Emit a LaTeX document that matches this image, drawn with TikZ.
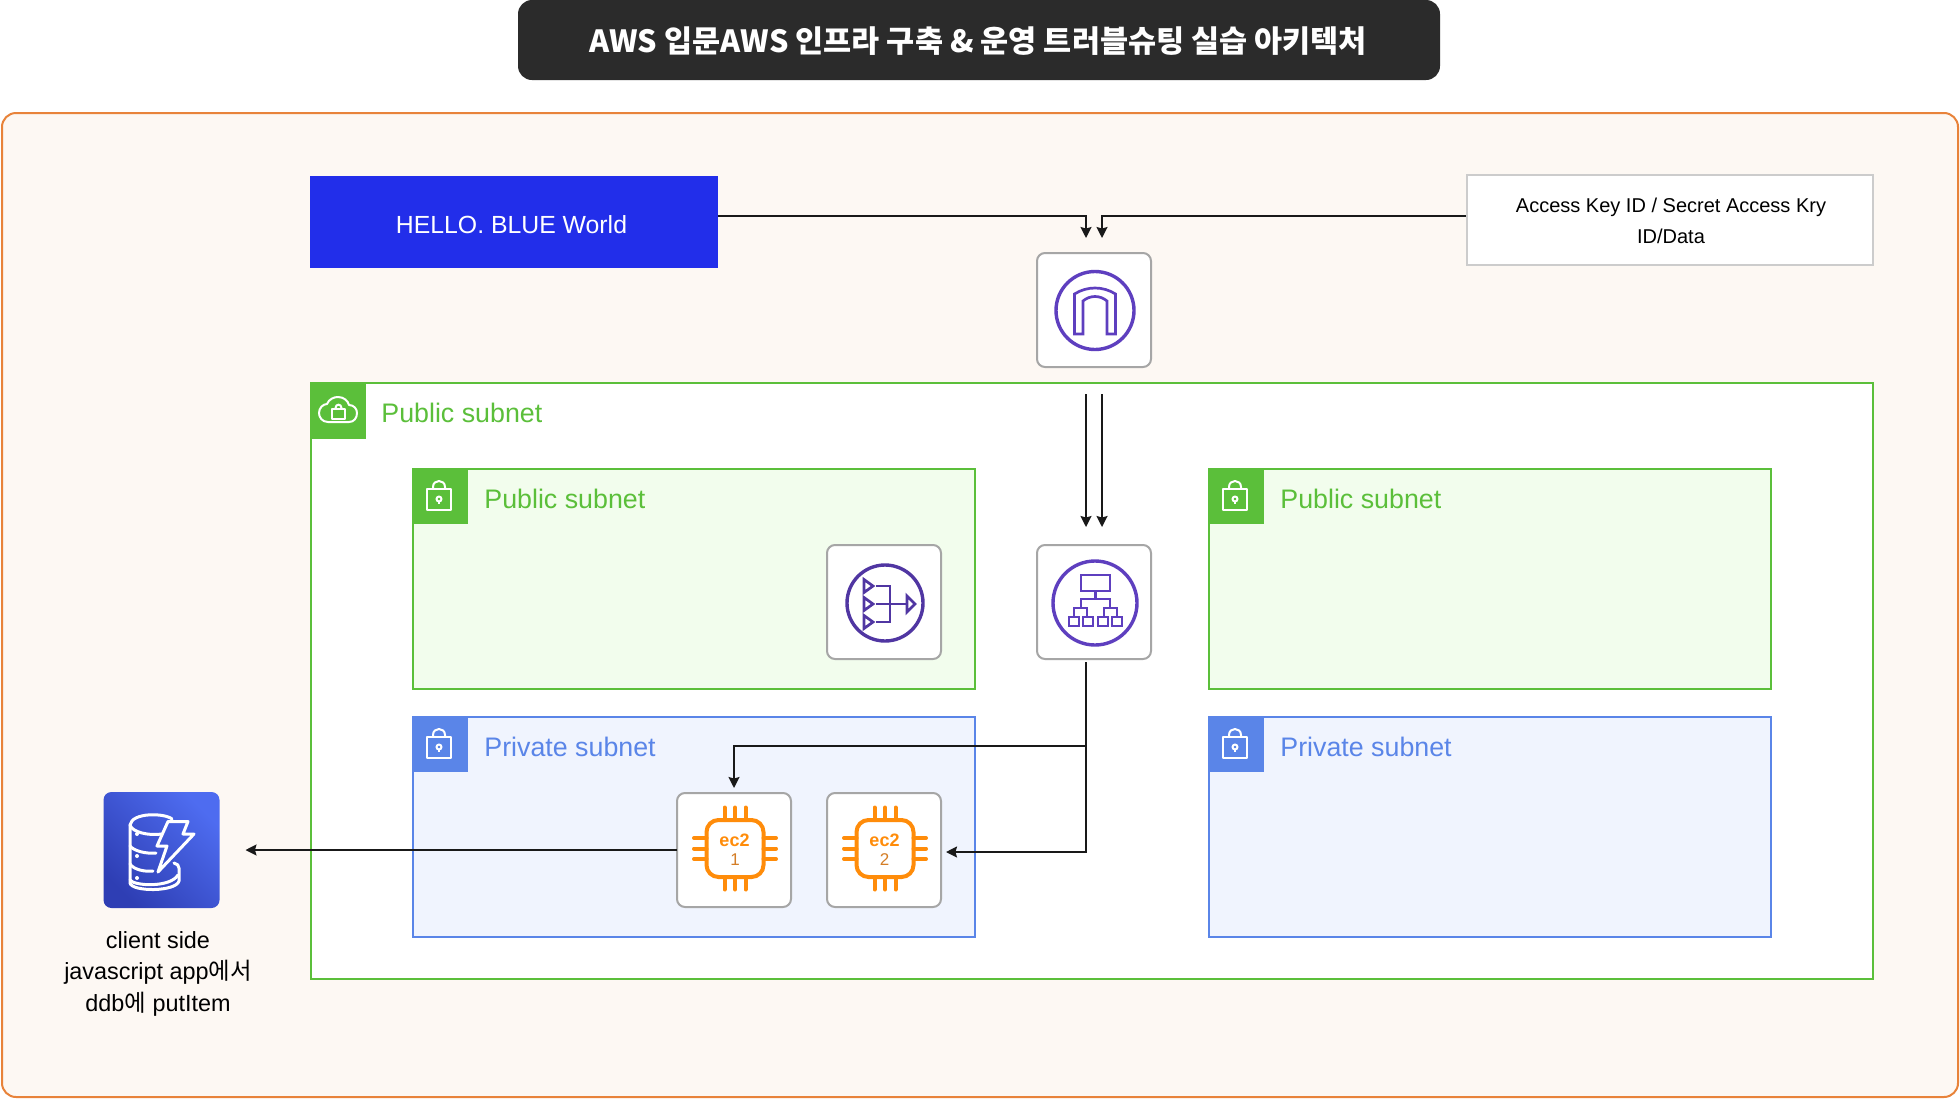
\documentclass[tikz,border=0pt]{standalone}
\usepackage{fontspec}
\setmainfont{Liberation Sans}
\newfontfamily\kr{Noto Sans CJK KR}
\usetikzlibrary{arrows.meta,calc}
\definecolor{gr}{HTML}{5BBF3A}
\definecolor{bl}{HTML}{5A85E8}
\definecolor{pu}{HTML}{5E3FBF}
\definecolor{org}{HTML}{FF8C0A}
\definecolor{outerline}{HTML}{E8833A}
\newcommand{\pxfont}[1]{\fontsize{#1}{#1}\selectfont}
\tikzset{
  x=0.5pt,y=-0.5pt,
  box/.style={draw,inner sep=0,outer sep=0,line width=1pt,anchor=north west},
  frame/.style={box,draw=#1,minimum width=0,minimum height=0},
  iconbox/.style={draw=black!35,fill=white,rounded corners=4pt,line width=1pt,inner sep=0,outer sep=0,minimum size=57pt},
  tab/.style={fill=#1,inner sep=0,outer sep=0,minimum size=28pt,anchor=north west},
  grouplabel/.style={text=#1,font=\pxfont{13.4},inner sep=0,anchor=base west},
  tx/.style={inner sep=0,anchor=base},
  arr/.style={draw=black!90,line width=1pt,-{Stealth[length=5.5pt,width=5.5pt,inset=.8pt]}},
  plain/.style={draw=black!90,line width=1pt},
  tabicon/.style={draw=white,line width=1pt,line join=round},
  puicon/.style={draw=pu,line width=1.35pt,line join=miter},
  puring/.style={puicon,line width=1.7pt},
  chipline/.style={draw=org,line width=2pt},
  lock/.pic={
    \draw[tabicon] (15,21) rectangle (39,42);
    \draw[tabicon] (21,21) -- (21,19) .. controls (21,11) and (33,11) .. (33,19) -- (33,21);
    \draw[tabicon] (27,31) circle[radius=2.5];
    \draw[tabicon] (27,33.5) -- (27,36);
  },
  chip/.pic={
    \draw[chipline,rounded corners=6pt] (-28.5,-28.5) rectangle (28.5,28.5);
    \foreach \d in {-10.5,0,10.5}{
      \draw[chipline,line cap=round] (\d,-41) -- (\d,-28.5);
      \draw[chipline,line cap=round] (\d,28.5) -- (\d,41);
      \draw[chipline,line cap=round] (-41,\d) -- (-28.5,\d);
      \draw[chipline,line cap=round] (28.5,\d) -- (41,\d);
    }
  },
}
\begin{document}
\begin{tikzpicture}
\useasboundingbox (0,0) rectangle (1960,1098);
\fill[white] (0,0) rectangle (1960,1098);
% title
\node[fill=black!83,rounded corners=7pt,inner sep=0,minimum width=461pt,minimum height=40pt] (title) at (979,40) {};
\node[tx,text=white,font=\pxfont{15.27}\kr\bfseries] (titletext) at (978,52) {AWS 입문AWS 인프라 구축 \& 운영 트러블슈팅 실습 아키텍처};
% outer
\node[draw=outerline,fill={rgb,255:red,253;green,248;blue,243},rounded corners=7pt,line width=1pt,inner sep=0,minimum width=978pt,minimum height=492pt] (outer) at (980,605) {};
% top boxes
\node[fill={rgb,255:red,34;green,46;blue,234},inner sep=0,minimum width=204pt,minimum height=46pt] (hello) at (514,221.5) {};
\node[tx,text=white,font=\pxfont{12.4}] (hellotext) at (511.5,233) {HELLO. BLUE World};
\node[draw=black!20,fill=white,line width=1pt,inner sep=0,minimum width=203pt,minimum height=45pt] (keys) at (1669.5,220) {};
\node[tx,font=\pxfont{10}] (keys1) at (1671,212) {Access Key ID / Secret Access Kry};
\node[tx,font=\pxfont{10}] (keys2) at (1671,243) {ID/Data};
% VPC
\node[frame=gr,fill=white,minimum width=781pt,minimum height=298pt] (vpc) at (311,383) {};
\node[tab=gr] (vpctab) at (310,383) {};
\node[grouplabel=gr] (vpclabel) at (381,422) {Public subnet};
\draw[tabicon] (328,422) .. controls (322,422) and (319,417) .. (319,413) .. controls (319,408) and (323,404) .. (327,404) .. controls (329,399) and (334,397) .. (338,397) .. controls (344,397) and (348,401) .. (349,405) .. controls (354,405) and (357,409) .. (357,413) .. controls (357,418) and (354,422) .. (349,422) -- cycle;
\draw[tabicon] (332,409) rectangle (345,419);
\draw[tabicon] (335.5,409) -- (335.5,408) .. controls (335.5,403.5) and (341.5,403.5) .. (341.5,408) -- (341.5,409);
% subnets
\node[frame=gr,fill={rgb,255:red,242;green,253;blue,237},minimum width=281pt,minimum height=110pt] (pub1) at (413,469) {};
\node[tab=gr] (pub1tab) at (412,468) {};
\pic at (412,468) {lock};
\node[grouplabel=gr] (pub1label) at (484,508) {Public subnet};
\node[frame=gr,fill={rgb,255:red,242;green,253;blue,237},minimum width=281pt,minimum height=110pt] (pub2) at (1209,469) {};
\node[tab=gr] (pub2tab) at (1208,468) {};
\pic at (1208,468) {lock};
\node[grouplabel=gr] (pub2label) at (1280,508) {Public subnet};
\node[frame=bl,fill={rgb,255:red,240;green,244;blue,254},minimum width=281pt,minimum height=110pt] (priv1) at (413,717) {};
\node[tab=bl] (priv1tab) at (412,716) {};
\pic at (412,716) {lock};
\node[grouplabel=bl] (priv1label) at (484,756) {Private subnet};
\node[frame=bl,fill={rgb,255:red,240;green,244;blue,254},minimum width=281pt,minimum height=110pt] (priv2) at (1209,717) {};
\node[tab=bl] (priv2tab) at (1208,716) {};
\pic at (1208,716) {lock};
\node[grouplabel=bl] (priv2label) at (1280,756) {Private subnet};
% icon boxes
\node[iconbox] (igw) at (1094,310) {};
\draw[puring] (1095,310.5) circle[radius=39];
\draw[puicon] (1074.5,334) -- (1074.5,294) .. controls (1087,286) and (1103,286) .. (1115.5,294) -- (1115.5,334) -- (1107,334) -- (1107,301) .. controls (1100,295) and (1090,295) .. (1083,301) -- (1083,334) -- cycle;
\node[iconbox] (nat) at (884,602) {};
\draw[puring,draw=pu!85!black] (885,603) circle[radius=38];
\begin{scope}[puicon,draw=pu!85!black]
\foreach \y in {586,604,622}{\draw (864,\y-6.5) -- (873,\y) -- (864,\y+6.5) -- cycle;}
\draw (876,586) -- (890,586) -- (890,622) -- (876,622);
\draw (876,604) -- (906,604);
\draw (907,596) -- (915,604) -- (907,612) -- cycle;
\end{scope}
\node[iconbox] (alb) at (1094,602) {};
\draw[puring] (1095,603) circle[radius=42];
\begin{scope}[puicon]
\draw (1081,575) rectangle (1110,591);
\draw (1095.5,591) -- (1095.5,599);
\draw (1081,608) -- (1081,599) -- (1110,599) -- (1110,608);
\draw (1074,617) -- (1074,608) -- (1087,608) -- (1087,617);
\draw (1104,617) -- (1104,608) -- (1117,608) -- (1117,617);
\foreach \x in {1069,1083,1098,1112}{\draw (\x,617) rectangle +(10,9);}
\end{scope}
\node[iconbox] (ec1) at (734,850) {};
\pic at (735,848.5) {chip};
\node[tx,text=org,font=\pxfont{9}\bfseries] (ec1a) at (734.5,846) {ec2};
\node[tx,text=orange!80!black!85,font=\pxfont{8.5}] (ec1b) at (735,865) {1};
\node[iconbox] (ec2) at (884,850) {};
\pic at (885,848.5) {chip};
\node[tx,text=org,font=\pxfont{9}\bfseries] (ec2a) at (884.5,846) {ec2};
\node[tx,text=orange!80!black!85,font=\pxfont{8.5}] (ec2b) at (884.5,865) {2};
% dynamodb
\node[rounded corners=4pt,inner sep=0,outer sep=0,minimum size=58pt,top color={rgb,255:red,78;green,108;blue,240},bottom color={rgb,255:red,46;green,62;blue,180},shading angle=-45] (ddb) at (161.5,850) {};
\begin{scope}[draw=white,line width=1.5pt,line join=round,line cap=round]
\draw (172,819) .. controls (165,813) and (132,812) .. (130,825) -- (130,883) .. controls (132,892) and (176,892) .. (179,881) -- (179,868) .. controls (179,865) and (177,864) .. (174,863);
\draw (130,825) .. controls (132,832) and (148,836) .. (162,834);
\draw (130,846) .. controls (134,851) and (146,854) .. (156,853);
\draw (130,864) .. controls (134,870) and (146,872) .. (153,871);
\draw (130,880) .. controls (134,886) and (170,888) .. (178,875);
\draw (168,821.5) -- (188,821.5) -- (183,834) -- (194,834) -- (158,872) -- (167,846) -- (157,846) -- cycle;
\foreach \y in {834,856,878}{\fill[white] (137,\y) circle[radius=2];}
\end{scope}
\node[tx,font=\pxfont{11.7}] (ddbl1) at (158,948) {client side};
\node[tx,font=\pxfont{11.7}] (ddbl2) at (158,979) {javascript app{\kr 에서}};
\node[tx,font=\pxfont{11.7}] (ddbl3) at (158,1011) {ddb{\kr 에} putItem};
% connectors
\draw[arr,shorten >=7.5pt] ($(hello.east)+(0,-5.5)$) -| ($(igw.north)+(-8,0)$);
\draw[arr,shorten >=7.5pt] ($(keys.west)+(0,-4)$) -| ($(igw.north)+(8,0)$);
\draw[arr,shorten <=13.5pt,shorten >=9pt] ($(igw.south)+(-8,0)$) -- ($(alb.north)+(-8,0)$);
\draw[arr,shorten <=13.5pt,shorten >=9pt] ($(igw.south)+(8,0)$) -- ($(alb.north)+(8,0)$);
\coordinate (fork) at ($(alb.south)+(-8,87)$);
\draw[plain,shorten <=1.5pt] ($(alb.south)+(-8,0)$) -- (fork);
\draw[arr,shorten >=2.5pt] (fork) -| (ec1.north);
\draw[arr,shorten >=2.5pt] (fork) |- ($(ec2.east)+(0,2)$);
\draw[arr,shorten >=13pt] (ec1.west) -- (ddb.east);
\end{tikzpicture}
\end{document}
